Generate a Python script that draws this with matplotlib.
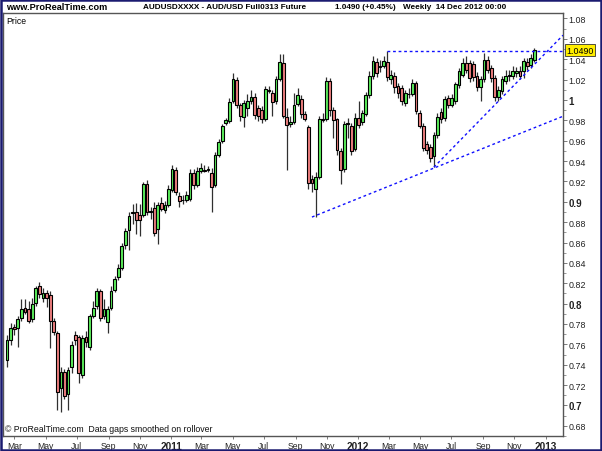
import matplotlib
matplotlib.use('Agg')
import matplotlib.pyplot as plt
import matplotlib.dates as mdates
import matplotlib.transforms as mtransforms
from matplotlib import font_manager as fm
from matplotlib.patches import Rectangle
import datetime as dt

# ---------------- data (weekly OHLC, AUD/USD Mar-13 future, back-adjusted) ----------------
first_week = dt.date(2010, 2, 15)

opens = [0.745, 0.764, 0.777, 0.776, 0.786, 0.796, 0.795, 0.785, 0.801, 0.817,
         0.806, 0.810, 0.808, 0.783, 0.771, 0.717, 0.733, 0.711, 0.738, 0.769,
         0.767, 0.730, 0.767, 0.757, 0.788, 0.798, 0.812, 0.788, 0.782, 0.796,
         0.813, 0.826, 0.835, 0.858, 0.872, 0.889, 0.890, 0.887, 0.887, 0.917,
         0.890, 0.894, 0.873, 0.899, 0.892, 0.897, 0.912, 0.931, 0.906, 0.902,
         0.902, 0.903, 0.928, 0.916, 0.930, 0.931, 0.932, 0.928, 0.916, 0.946,
         0.960, 0.977, 0.979, 0.999, 1.020, 0.995, 0.983, 0.992, 0.999, 1.003,
         0.992, 0.990, 0.981, 1.010, 1.007, 0.999, 1.021, 1.036, 0.983, 0.976,
         0.978, 0.996, 1.001, 0.986, 0.973, 0.922, 0.913, 0.924, 0.980, 0.981,
         1.019, 0.990, 0.981, 0.950, 0.932, 0.976, 0.974, 0.952, 0.982, 0.978,
         0.986, 1.005, 1.024, 1.037, 1.032, 1.033, 1.037, 1.021, 1.024, 1.014,
         1.012, 0.997, 1.006, 1.006, 1.017, 0.987, 0.974, 0.957, 0.954, 0.945,
         0.966, 0.988, 0.982, 1.002, 0.995, 0.999, 1.015, 1.025, 1.036, 1.036,
         1.035, 1.024, 1.013, 1.021, 1.039, 1.031, 1.022, 1.003, 1.009, 1.019,
         1.024, 1.024, 1.026, 1.028, 1.028, 1.037, 1.034, 1.039]

highs = [0.769, 0.781, 0.780, 0.788, 0.805, 0.805, 0.803, 0.806, 0.817, 0.821,
         0.815, 0.813, 0.812, 0.786, 0.773, 0.738, 0.736, 0.738, 0.763, 0.773,
         0.769, 0.769, 0.773, 0.790, 0.803, 0.815, 0.814, 0.805, 0.798, 0.817,
         0.827, 0.839, 0.860, 0.874, 0.890, 0.898, 0.899, 0.898, 0.919, 0.921,
         0.895, 0.900, 0.900, 0.905, 0.901, 0.916, 0.936, 0.934, 0.910, 0.907,
         0.911, 0.932, 0.932, 0.934, 0.938, 0.936, 0.935, 0.933, 0.949, 0.962,
         0.976, 0.982, 1.002, 1.026, 1.023, 0.997, 1.000, 1.006, 1.010, 1.007,
         0.995, 0.994, 1.014, 1.014, 1.010, 1.024, 1.045, 1.045, 0.992, 0.984,
         1.007, 1.012, 1.005, 0.989, 0.975, 0.926, 0.929, 0.984, 0.987, 1.023,
         1.022, 0.993, 0.982, 0.953, 0.979, 0.982, 0.977, 0.987, 0.999, 0.990,
         1.008, 1.028, 1.043, 1.041, 1.039, 1.043, 1.0485, 1.029, 1.027, 1.017,
         1.015, 1.010, 1.012, 1.021, 1.019, 0.990, 0.977, 0.960, 0.957, 0.969,
         0.987, 0.992, 1.004, 1.005, 1.006, 1.018, 1.031, 1.041, 1.043, 1.039,
         1.038, 1.027, 1.024, 1.046, 1.043, 1.034, 1.025, 1.014, 1.024, 1.029,
         1.029, 1.033, 1.032, 1.033, 1.041, 1.041, 1.045, 1.051]

lows = [0.738, 0.759, 0.769, 0.757, 0.783, 0.790, 0.781, 0.782, 0.798, 0.806,
        0.802, 0.797, 0.756, 0.769, 0.696, 0.694, 0.706, 0.696, 0.732, 0.759,
        0.722, 0.727, 0.757, 0.754, 0.786, 0.795, 0.783, 0.785, 0.771, 0.794,
        0.811, 0.823, 0.833, 0.854, 0.853, 0.878, 0.868, 0.866, 0.885, 0.887,
        0.883, 0.866, 0.859, 0.891, 0.889, 0.895, 0.910, 0.907, 0.895, 0.898,
        0.900, 0.901, 0.913, 0.9145, 0.928, 0.929, 0.929, 0.890, 0.9145, 0.944,
        0.958, 0.975, 0.977, 0.997, 0.992, 0.979, 0.973, 0.984, 0.996, 0.981,
        0.979, 0.977, 0.979, 1.007, 0.984, 0.996, 1.019, 0.982, 0.931, 0.973,
        0.976, 0.994, 0.982, 0.979, 0.913, 0.910, 0.885, 0.922, 0.978, 0.979,
        0.984, 0.963, 0.946, 0.917, 0.929, 0.963, 0.946, 0.950, 0.972, 0.975,
        0.984, 1.002, 1.021, 1.023, 1.027, 1.031, 1.019, 1.016, 1.007, 1.002,
        0.995, 0.994, 1.002, 1.004, 0.986, 0.972, 0.950, 0.947, 0.939, 0.934,
        0.963, 0.977, 0.979, 0.992, 0.993, 0.996, 1.012, 1.023, 1.026, 1.018,
        1.019, 1.009, 0.999, 1.018, 1.026, 1.018, 0.999, 0.999, 1.006, 1.016,
        1.019, 1.021, 1.023, 1.021, 1.022, 1.029, 1.031, 1.037]

closes = [0.764, 0.776, 0.775, 0.785, 0.795, 0.792, 0.783, 0.800, 0.815, 0.809,
          0.810, 0.806, 0.783, 0.772, 0.713, 0.733, 0.709, 0.735, 0.759, 0.764,
          0.732, 0.766, 0.762, 0.788, 0.796, 0.812, 0.786, 0.795, 0.795, 0.812,
          0.824, 0.835, 0.857, 0.871, 0.886, 0.8895, 0.882, 0.882, 0.917, 0.890,
          0.8905, 0.869, 0.897, 0.893, 0.897, 0.913, 0.932, 0.910, 0.901, 0.9015,
          0.907, 0.928, 0.916, 0.930, 0.933, 0.9305, 0.9315, 0.915, 0.946, 0.959,
          0.974, 0.980, 0.998, 1.021, 0.995, 0.984, 0.997, 0.999, 1.003, 0.985,
          0.984, 0.981, 1.011, 1.009, 0.998, 1.021, 1.037, 0.984, 0.975, 0.978,
          0.995, 1.005, 0.986, 0.981, 0.918, 0.918, 0.924, 0.981, 0.9815, 1.019,
          0.990, 0.980, 0.951, 0.931, 0.976, 0.977, 0.950, 0.982, 0.975, 0.987,
          1.005, 1.024, 1.038, 1.026, 1.033, 1.038, 1.023, 1.025, 1.013, 1.007,
          0.999, 1.007, 1.0055, 1.017, 0.989, 0.974, 0.953, 0.951, 0.943, 0.966,
          0.983, 0.981, 1.001, 0.995, 1.002, 1.0155, 1.028, 1.036, 1.029, 1.022,
          1.023, 1.013, 1.021, 1.039, 1.029, 1.022, 1.003, 1.010, 1.021, 1.024,
          1.0245, 1.028, 1.0285, 1.024, 1.038, 1.033, 1.041, 1.049]

# trend lines drawn on the chart (start date/price -> end date/price)
trend_start_dates = [dt.date(2012, 2, 27), dt.date(2012, 5, 28), dt.date(2011, 10, 3)]
trend_start_prices = [1.0485, 0.934, 0.885]
trend_end_dates = [dt.date(2013, 2, 4), dt.date(2013, 2, 4), dt.date(2013, 2, 4)]
trend_end_prices = [1.0485, 1.0636, 0.984]

y_ticks = [0.68, 0.70, 0.72, 0.74, 0.76, 0.78, 0.80, 0.82, 0.84, 0.86, 0.88,
           0.90, 0.92, 0.94, 0.96, 0.98, 1.00, 1.02, 1.04, 1.06, 1.08]
bold_y = [0.70, 0.80, 0.90, 1.00]
x_tick_dates = [dt.date(2010, 3, 1), dt.date(2010, 5, 1), dt.date(2010, 7, 1), dt.date(2010, 9, 1),
                dt.date(2010, 11, 1), dt.date(2011, 1, 1), dt.date(2011, 3, 1), dt.date(2011, 5, 1),
                dt.date(2011, 7, 1), dt.date(2011, 9, 1), dt.date(2011, 11, 1), dt.date(2012, 1, 1),
                dt.date(2012, 3, 1), dt.date(2012, 5, 1), dt.date(2012, 7, 1), dt.date(2012, 9, 1),
                dt.date(2012, 11, 1), dt.date(2013, 1, 1)]
x_tick_labels = ['Mar', 'May', 'Jul', 'Sep', 'Nov', '2011', 'Mar', 'May', 'Jul', 'Sep', 'Nov',
                 '2012', 'Mar', 'May', 'Jul', 'Sep', 'Nov', '2013']
title_parts = ['AUDUSDXXXX - AUD/USD Full0313 Future', '1.0490 (+0.45%)', 'Weekly  14 Dec 2012 00:00']
title_x_px = [143, 335, 403]
last_price_label = '1.0490'
last_price = 1.049

# ---------------- fonts: prefer a narrow face (the original uses a condensed UI font) ----------------
available = {f.name for f in fm.fontManager.ttflist}
if 'Liberation Sans Narrow' in available:
    base_family = ['Liberation Sans Narrow', 'Liberation Sans', 'DejaVu Sans']
    scale = 1.15
else:
    base_family = ['Liberation Sans', 'DejaVu Sans']
    scale = 1.0
plt.rcParams['font.family'] = base_family

fig = plt.figure(figsize=(6.02, 4.52), dpi=100)
fig.patch.set_facecolor('white')
ax = fig.add_axes([3 / 602, 1 - 437 / 452, 560 / 602, 423 / 452])

n = len(closes)
dates = [first_week + dt.timedelta(weeks=i) for i in range(n)]
xs = mdates.date2num(dates)

ax.vlines(xs, lows, highs, color='#303030', linewidth=0.9, zorder=2)
bottoms = [min(o, c) for o, c in zip(opens, closes)]
heights = [max(abs(c - o), 0.0004) for o, c in zip(opens, closes)]
colors = ['#5cf05c' if c >= o else '#f08080' for o, c in zip(opens, closes)]
ax.bar(xs, heights, bottom=bottoms, width=5.4, color=colors, edgecolor='black',
       linewidth=0.8, zorder=3)

for d0, p0, d1, p1 in zip(trend_start_dates, trend_start_prices, trend_end_dates, trend_end_prices):
    ax.plot([mdates.date2num(d0), mdates.date2num(d1)], [p0, p1], color='#1010ff',
            linestyle=(0, (2, 2)), linewidth=1.0, zorder=4)

ax.set_xlim(mdates.date2num(dt.date(2010, 2, 7)), mdates.date2num(dt.date(2013, 2, 4)))
ax.set_ylim(0.6737, 1.0854)

# y axis on the right
ax.yaxis.tick_right()
ax.set_yticks(y_ticks)
ax.set_yticklabels(['%g' % round(v, 2) for v in y_ticks])
ax.set_yticks([round(0.67 + 0.01 * k, 2) for k in range(42)], minor=True)
ax.tick_params(axis='y', which='major', length=3, width=0.6, color='#666666', pad=1,
               labelsize=6.4 * scale, labelcolor='#222222')
ax.tick_params(axis='y', which='minor', length=2, width=0.6, color='#888888')
for lab, v in zip(ax.get_yticklabels(), y_ticks):
    if any(abs(v - b) < 1e-9 for b in bold_y):
        lab.set_fontweight('bold')
        lab.set_fontsize(7.0 * scale)

ax.set_xticks(mdates.date2num(x_tick_dates))
ax.set_xticklabels(x_tick_labels)
ax.tick_params(axis='x', which='major', length=2.5, width=0.6, color='#666666', pad=0.8,
               labelsize=6.2 * scale, labelcolor='#222222')
for lab, t in zip(ax.get_xticklabels(), x_tick_labels):
    if t.isdigit():
        lab.set_fontweight('bold')
        lab.set_fontsize(7.2 * scale)

for sp in ax.spines.values():
    sp.set_color('#555555')
    sp.set_linewidth(1.0)

# texts
ax.text(0.005, 0.992, 'Price', transform=ax.transAxes, fontsize=6.2 * scale, va='top', ha='left')
ax.text(0.003, 0.006, '\u00a9 ProRealTime.com  Data gaps smoothed on rollover', transform=ax.transAxes,
        fontsize=6.3 * scale, va='bottom', ha='left', color='#111111')
fig.text(6 / 602, 1 - 7.5 / 452, 'www.ProRealTime.com', fontsize=6.6 * scale, fontweight='bold',
         va='center', ha='left')
for part, xp in zip(title_parts, title_x_px):
    fig.text(xp / 602, 1 - 7.5 / 452, part, fontsize=5.9 * scale, fontweight='bold',
             va='center', ha='left')

trans = mtransforms.blended_transform_factory(ax.transAxes, ax.transData)
ax.text(1.006, last_price, last_price_label, transform=trans, fontsize=6.4 * scale, va='center',
        ha='left',
        bbox=dict(boxstyle='square,pad=0.18', facecolor='#ffee00', edgecolor='#333333', linewidth=0.6),
        zorder=10, clip_on=False)

# outer navy frame
fig.add_artist(Rectangle((0.0015, 0.002), 0.997, 0.996, transform=fig.transFigure, fill=False,
                         edgecolor='#1a1a70', linewidth=1.8))

fig.savefig('out.png', dpi=100, facecolor='white')
